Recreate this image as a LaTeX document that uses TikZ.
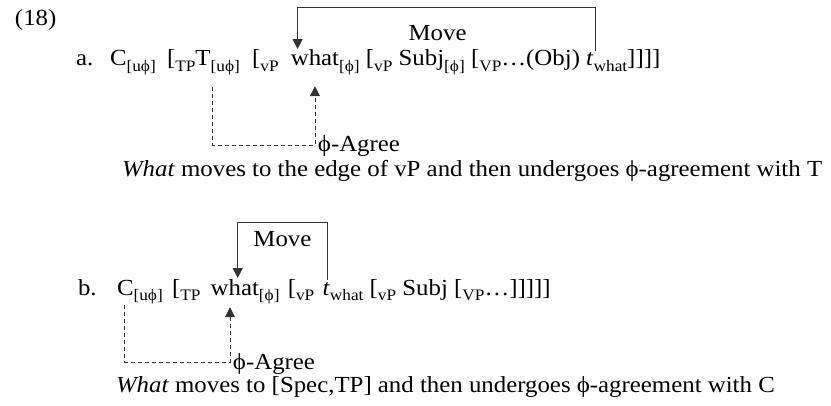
\documentclass[tikz,border=0pt]{standalone}
\usepackage{fontspec}
\setmainfont[FakeStretch=1.08]{Liberation Serif}
\usetikzlibrary{arrows.meta,calc}
\newcommand{\sbs}[1]{\raisebox{-0.22em}{\fontsize{16}{16}\selectfont #1}}
\newcommand{\wsp}{\kern\fontdimen2\font}
\begin{document}
\begin{tikzpicture}[x=1pt,y=1pt,
  every node/.style={inner sep=0pt, outer sep=0pt, anchor=base west, font=\fontsize{23}{27}\selectfont},
  mv/.style={line width=0.9pt, draw=black!80},
  ag/.style={line width=0.9pt, draw=black!80, dash pattern=on 4pt off 3pt},
  tip/.style={-{Triangle[width=10pt,length=10pt]}}]
\useasboundingbox (0,0) rectangle (831,405);
\node (num) at (15,379) {(18)};
% ---- line a ----
\node (la) at (76,339) {a.};
\node (Ca) at (110,339) {C\sbs{[uϕ]}};
\node (TPa) at (Ca.base east) {\wsp\kern5pt[\sbs{TP}};
\node (Ta) at (TPa.base east) {T};
\node (Tsa) at (Ta.base east) {\sbs{[uϕ]}};
\node (vPa) at (Tsa.base east) {\wsp\kern6pt[\sbs{vP}\wsp\kern6pt};
\node (whata) at (vPa.base east) {what};
\node (resta) at (whata.base east) {\sbs{[ϕ]}\wsp[\sbs{vP} Subj\sbs{[ϕ]} [\sbs{VP}…(Obj)\wsp};
\node (twa) at (resta.base east) {\textit{t}};
\node (enda) at (twa.base east) {\sbs{what}]]]]};
\coordinate (mva1) at ($(twa.north east)+(2,2)$);
\coordinate (mvaTop) at (0,398);
\coordinate (mvaTip) at ($(whata.north west)!0.14!(whata.north east)+(0,1)$);
\draw[mv,tip] (mva1) -- (mva1 |- mvaTop) -| (mvaTip);
\node[anchor=base] (mvla) at ($(mva1 |- mvaTop)!0.5!(mvaTip |- mvaTop)+(-9,-34)$) {Move};
\coordinate (agaL) at ($(Ta.south east)+(2,-21)$);
\coordinate (agaTip) at ($(whata.south)+(0,-20)$);
\coordinate (agaH) at (0,260);
\draw[ag,tip] (agaL) |- (agaH -| agaTip) -- (agaTip);
\node (agla) at ($(agaH -| agaTip)+(3,-7)$) {ϕ-Agree};
\node (wha) at (122,228) {\textit{What} moves to the edge of vP and then undergoes ϕ-agreement with T};
% ---- line b ----
\node (lb) at (78,110) {b.};
\node (Cb) at (117,110) {C};
\node (Csb) at (Cb.base east) {\sbs{[uϕ]}};
\node (TPb) at (Csb.base east) {\wsp\kern3pt[\sbs{TP}\wsp\kern4pt};
\node (whatb) at (TPb.base east) {what};
\node (restb) at (whatb.base east) {\sbs{[ϕ]}\wsp\kern2pt[\sbs{vP}\wsp\kern2pt};
\node (twb) at (restb.base east) {\textit{t}};
\node (endb) at (twb.base east) {\sbs{what}\wsp[\sbs{vP} Subj [\sbs{VP}…]]]]]};
\coordinate (mvb1) at ($(twb.north)+(1,2)$);
\coordinate (mvbTop) at (0,183);
\coordinate (mvbTip) at ($(whatb.north west)!0.56!(whatb.north east)+(0,1)$);
\draw[mv,tip] (mvb1) -- (mvb1 |- mvbTop) -| (mvbTip);
\node[anchor=base] (mvlb) at ($(mvb1 |- mvbTop)!0.5!(mvbTip |- mvbTop)+(0,-25)$) {Move};
\coordinate (agbL) at ($(Cb.south west)!0.45!(Cb.south east)+(0,-10)$);
\coordinate (agbTip) at ($(whatb.south west)!0.4!(whatb.south east)+(0,-12)$);
\coordinate (agbH) at (0,43);
\draw[ag,tip] (agbL) |- (agbH -| agbTip) -- (agbTip);
\node (aglb) at ($(agbH -| agbTip)+(3,-7)$) {ϕ-Agree};
\node (whb) at (116,13) {\textit{What} moves to [Spec,TP] and then undergoes ϕ-agreement with C};
\end{tikzpicture}
\end{document}
